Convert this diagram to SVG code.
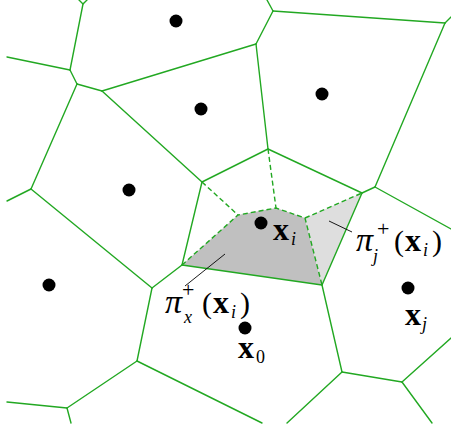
<svg xmlns="http://www.w3.org/2000/svg" width="451" height="430" viewBox="0 0 451 430">
<style>
.e{fill:none;stroke:#22a822;stroke-width:1.4;stroke-linecap:round;stroke-linejoin:round}
.d{fill:none;stroke:#22a822;stroke-width:1.4;stroke-dasharray:5 3}
.s{fill:#000}
.l{stroke:#000;stroke-width:0.9;fill:none}
.t{font-family:"Liberation Serif",serif;fill:#000}
.b{font-weight:bold;font-size:32px}
.it{font-style:italic}
.m{font-size:30px}
.p{font-size:34px;font-style:italic}
.sc{font-size:18px}
.pl{font-size:22px}
</style>
<rect width="451" height="430" fill="#fff"/>
<g id="regions">
<polygon points="182,265 238,215 276,208 305,218 322,285" fill="#c0c0c0"/>
<polygon points="305,218 362,193 322,285" fill="#dedede"/>
</g>
<g id="edges">
<polyline class="e" points="79,0 83,4 87,0"/>
<line class="e" x1="83" y1="4" x2="70" y2="70"/>
<line class="e" x1="7" y1="57" x2="70" y2="70"/>
<line class="e" x1="70" y1="70" x2="77" y2="84"/>
<line class="e" x1="77" y1="84" x2="102" y2="91"/>
<line class="e" x1="102" y1="91" x2="256" y2="44"/>
<line class="e" x1="77" y1="84" x2="31" y2="189"/>
<line class="e" x1="7" y1="201" x2="31" y2="189"/>
<line class="e" x1="31" y1="189" x2="152" y2="288"/>
<line class="e" x1="102" y1="91" x2="202" y2="182"/>
<line class="e" x1="202" y1="182" x2="268" y2="149"/>
<line class="e" x1="202" y1="182" x2="182" y2="265"/>
<line class="e" x1="267" y1="0" x2="273" y2="11"/>
<line class="e" x1="273" y1="11" x2="445" y2="23"/>
<line class="e" x1="445" y1="23" x2="451" y2="17"/>
<line class="e" x1="445" y1="23" x2="375" y2="187"/>
<line class="e" x1="273" y1="11" x2="256" y2="44"/>
<line class="e" x1="256" y1="44" x2="268" y2="149"/>
<line class="e" x1="268" y1="149" x2="362" y2="193"/>
<line class="e" x1="362" y1="193" x2="375" y2="187"/>
<line class="e" x1="375" y1="187" x2="451" y2="229"/>
<line class="e" x1="362" y1="193" x2="322" y2="285"/>
<line class="e" x1="182" y1="265" x2="322" y2="285"/>
<line class="e" x1="152" y1="288" x2="182" y2="265"/>
<line class="e" x1="152" y1="288" x2="137" y2="361"/>
<line class="e" x1="137" y1="361" x2="67" y2="408"/>
<line class="e" x1="7" y1="402" x2="67" y2="408"/>
<line class="e" x1="67" y1="408" x2="71" y2="423"/>
<line class="e" x1="137" y1="361" x2="262" y2="423"/>
<line class="e" x1="322" y1="285" x2="342" y2="372"/>
<line class="e" x1="342" y1="372" x2="287" y2="423"/>
<line class="e" x1="342" y1="372" x2="402" y2="382"/>
<line class="e" x1="402" y1="382" x2="432" y2="423"/>
<line class="e" x1="402" y1="382" x2="451" y2="338"/>
<line class="d" x1="202" y1="182" x2="238" y2="215"/>
<line class="d" x1="268" y1="149" x2="276" y2="208"/>
<polyline class="d" points="182,265 238,215 276,208 305,218 322,285"/>
<line class="d" x1="305" y1="218" x2="362" y2="193"/>
</g>
<g id="sites">
<circle id="s1" class="s" cx="176" cy="21" r="6.5"/>
<circle id="s2" class="s" cx="201" cy="109" r="6.5"/>
<circle id="s3" class="s" cx="322" cy="94" r="6.5"/>
<circle id="s4" class="s" cx="129" cy="190" r="6.5"/>
<circle id="s5" class="s" cx="49" cy="285" r="6.5"/>
<circle id="xi" class="s" cx="261" cy="223" r="6.5"/>
<circle id="x0" class="s" cx="245" cy="328" r="6.5"/>
<circle id="xj" class="s" cx="408" cy="288" r="6.5"/>
</g>
<g id="leaders">
<line class="l" x1="225" y1="254" x2="185" y2="286"/>
<line class="l" x1="329" y1="221" x2="352" y2="232"/>
</g>
<g id="labels">
<text class="t"><tspan class="b" x="273" y="240">x</tspan><tspan class="sc it" x="291" y="245">i</tspan></text>
<text class="t"><tspan class="b" x="238" y="358">x</tspan><tspan class="sc" x="256" y="363">0</tspan></text>
<text class="t"><tspan class="b" x="405" y="325">x</tspan><tspan class="sc it" x="422" y="330">j</tspan></text>
<text class="t"><tspan class="p" x="165" y="313">π</tspan><tspan class="pl" x="182" y="297">+</tspan><tspan class="sc it" x="184" y="323">x</tspan><tspan class="m" x="202" y="313">(</tspan><tspan class="b" x="213" y="313">x</tspan><tspan class="sc it" x="231" y="318">i</tspan><tspan class="m" x="240" y="313">)</tspan></text>
<text class="t"><tspan class="p" x="356" y="251">π</tspan><tspan class="pl" x="377" y="236">+</tspan><tspan class="sc it" x="373" y="262">j</tspan><tspan class="m" x="394" y="251">(</tspan><tspan class="b" x="405" y="251">x</tspan><tspan class="sc it" x="423" y="256">i</tspan><tspan class="m" x="432" y="251">)</tspan></text>
</g>
</svg>
